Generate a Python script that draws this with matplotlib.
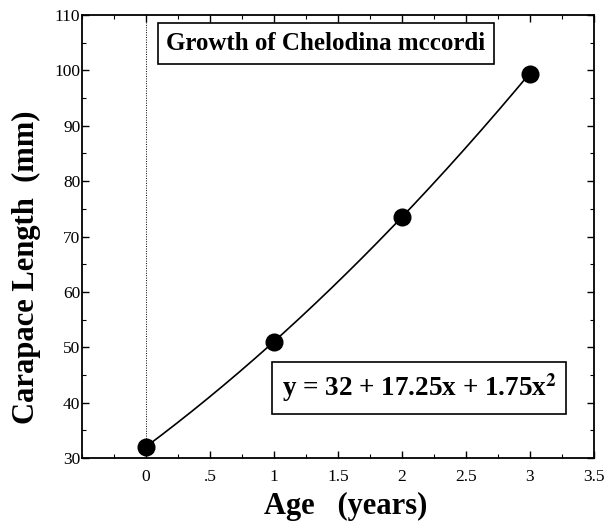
import numpy as np
import matplotlib
matplotlib.use("Agg")
import matplotlib.pyplot as plt
from matplotlib.ticker import MultipleLocator, FixedLocator

plt.rcParams["font.family"] = ["Liberation Serif", "DejaVu Serif"]
plt.rcParams["mathtext.fontset"] = "stix"

# measured points (age in years, carapace length in mm)
age    = [0, 1, 2, 3]
length = [32, 51, 73.5, 99.3]

# fitted quadratic, as printed on the chart
coef = [32, 17.25, 1.75]

x_ticks  = [0, 0.5, 1, 1.5, 2, 2.5, 3, 3.5]
x_labels = ["0", ".5", "1", "1.5", "2", "2.5", "3", "3.5"]

fig = plt.figure(figsize=(6.06, 5.21), dpi=100)
ax = fig.add_axes([0.135, 0.121, 0.845, 0.850])

xs = np.linspace(age[0], age[-1], 200)
ys = coef[0] + coef[1] * xs + coef[2] * xs ** 2
ax.plot(xs, ys, color="black", lw=1.2)
ax.plot(age, length, "o", color="black", markersize=12)

ax.axvline(0, color="black", lw=0.7, ls=(0, (1, 1.5)))

ax.set_xlim(-0.5, 3.5)
ax.set_ylim(30, 110)
ax.xaxis.set_major_locator(FixedLocator(x_ticks))
ax.set_xticklabels(x_labels)
ax.xaxis.set_minor_locator(MultipleLocator(0.25))
ax.yaxis.set_major_locator(MultipleLocator(10))
ax.yaxis.set_minor_locator(MultipleLocator(5))
ax.tick_params(which="both", direction="in", top=True, right=True, labelsize=12.5)
ax.tick_params(which="major", length=5, width=1)
ax.tick_params(which="minor", length=3, width=0.8)
ax.tick_params(axis="x", pad=8)
ax.tick_params(axis="y", pad=1)
for s in ax.spines.values():
    s.set_linewidth(1.3)

ax.set_xlabel("Age   (years)", fontsize=22, fontweight="bold")
ax.set_ylabel("Carapace Length  (mm)", fontsize=22, fontweight="bold")
ax.xaxis.set_label_coords(0.515, -0.076)
ax.yaxis.set_label_coords(-0.08, 0.43)

box = dict(boxstyle="square,pad=0.35", facecolor="white", edgecolor="black", lw=1.2)
ax.text(0.165, 0.962, "Growth of Chelodina mccordi", transform=ax.transAxes,
        fontsize=18, fontweight="bold", va="top", ha="left", bbox=box)
ax.text(0.39, 0.158, "y = 32 + 17.25x + 1.75x$^{\\mathbf{2}}$", transform=ax.transAxes,
        fontsize=19.5, fontweight="bold", va="center", ha="left", bbox=box)

fig.savefig("out.png", dpi=100)
